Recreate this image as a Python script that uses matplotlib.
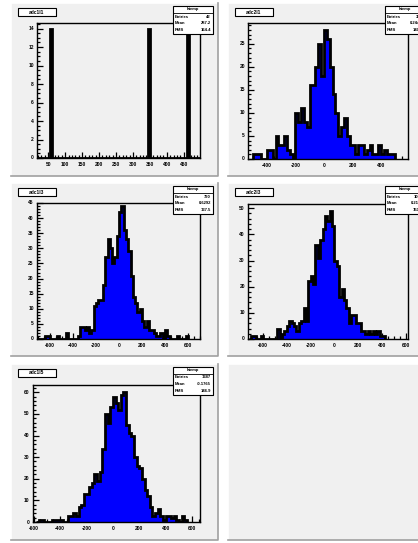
import numpy as np
import matplotlib
matplotlib.use("Agg")
from matplotlib import pyplot as plt
from matplotlib.patches import Rectangle
from matplotlib.ticker import MultipleLocator

W, H = 418, 543

# panel 1: three narrow spikes
p1_pos = [57, 349, 460]
p1_cnt = [14, 14, 14]

# panel 2 : bins of 20 starting at -500
p2_lo = -500
p2_cnt = [1, 1, 1, 0, 0, 2, 2, 0, 5, 3, 3, 5, 2, 1, 0, 10, 8, 11, 8, 7,
          16, 16, 20, 25, 18, 28, 26, 20, 14, 10, 5, 7, 9, 5, 3, 3, 1, 3, 3, 1,
          2, 3, 1, 1, 3, 1, 2, 1, 1, 1]

# panel 3 : bins of 20 starting at -700
p3_lo = -700
p3_cnt = [0, 0, 0, 1, 1, 0, 0, 0, 1, 0, 0, 0, 2, 0, 0, 0, 0, 1, 4, 4,
          3, 4, 2, 3, 11, 12, 13, 13, 18, 27, 33, 30, 25, 27, 34, 42, 44, 36, 33, 29,
          21, 14, 12, 9, 10, 6, 4, 6, 3, 3, 2, 1, 1, 2, 0, 3, 1, 0, 0, 0,
          1, 0, 0, 0, 1]

# panel 4 : bins of 20 starting at -720
p4_lo = -720
p4_cnt = [0, 1, 1, 0, 0, 1, 0, 0, 0, 0, 0, 0, 4, 0, 2, 3, 5, 7, 6, 5,
          3, 6, 7, 12, 7, 22, 24, 21, 36, 31, 38, 42, 47, 45, 49, 43, 30, 28, 16, 19,
          15, 12, 6, 9, 9, 6, 6, 3, 3, 2, 3, 2, 3, 2, 3, 1, 1]

# panel 5 : bins of 20 starting at -580
p5_lo = -580
p5_cnt = [0, 1, 1, 0, 0, 0, 1, 1, 1, 1, 0, 0, 3, 3, 4, 3, 7, 8, 13, 13,
          16, 18, 22, 19, 23, 34, 50, 46, 53, 58, 55, 52, 59, 60, 45, 41, 40, 30, 26, 25,
          20, 15, 12, 7, 3, 4, 6, 3, 1, 3, 3, 2, 3, 1, 0, 3, 1]

titles = ["adc1l1", "adc2l1", "adc1l3", "adc2l3", "adc1l5"]
stats = [("42", "287.2", "164.4"),
         ("365", "0.2441", "140.2"),
         ("790", "0.6292", "137.5"),
         ("1063", "0.2152", "150.6"),
         ("1387", "-0.1765", "146.9")]

plt.rcParams['font.family'] = ['Liberation Sans', 'DejaVu Sans']
plt.rcParams['font.weight'] = 'bold'

fig = plt.figure(figsize=(W / 100, H / 100), dpi=100)
fig.patch.set_facecolor("white")


def box(x0, y0, x1, y1):
    return [x0 / W, 1 - y1 / H, (x1 - x0) / W, (y1 - y0) / H]


def pad(x0, y0, x1, y1):
    fig.patches.append(Rectangle((x0 / W, 1 - y1 / H), (x1 - x0) / W, (y1 - y0) / H,
                                 transform=fig.transFigure, facecolor="#f0f0f0",
                                 edgecolor="none", zorder=-2))
    # bevel: light top/left, dark bottom/right
    fig.lines.append(plt.Line2D([x0 / W, x0 / W, x1 / W], [1 - y1 / H, 1 - y0 / H, 1 - y0 / H],
                                transform=fig.transFigure, color="white", lw=1.2, zorder=-1))
    fig.lines.append(plt.Line2D([x0 / W, x1 / W, x1 / W], [1 - y1 / H, 1 - y1 / H, 1 - y0 / H],
                                transform=fig.transFigure, color="#a0a0a0", lw=1.2, zorder=-1))


pads = [(11, 3, 218, 176), (228, 3, 430, 176),
        (11, 183, 218, 356), (228, 183, 430, 356),
        (11, 364, 218, 540), (228, 364, 430, 540)]
for p in pads:
    pad(*p)

frames = [(37, 23, 200, 158), (248, 23, 408, 159),
          (37, 203, 200, 339), (248, 204, 408, 339),
          (33, 385, 200, 522)]
xlims = [(17, 498), (-533, 589), (-713, 704), (-726, 617), (-605, 660)]
ylims = [(0, 14.6), (0, 29.5), (0, 45), (0, 51.6), (0, 63.4)]
xmaj = [50, 200, 200, 200, 200]
xmin = [10, 50, 50, 50, 50]
ymaj = [2, 5, 5, 10, 10]
ymin = [0.5, 1, 1, 2, 2]
stat_off = [27, 23, 27, 23, 27]

hists = []
edges1 = np.arange(15, 510, 5)
c1, _ = np.histogram(p1_pos, bins=edges1, weights=p1_cnt)
hists.append((c1, edges1))
for lo, cnt in [(p2_lo, p2_cnt), (p3_lo, p3_cnt), (p4_lo, p4_cnt), (p5_lo, p5_cnt)]:
    e = lo + 20 * np.arange(len(cnt) + 1)
    hists.append((np.array(cnt), e))

for i in range(5):
    ax = fig.add_axes(box(*frames[i]))
    ax.set_zorder(2)
    ax.set_facecolor("#f0f0f0")
    cnt, e = hists[i]
    ax.stairs(cnt, e, fill=True, color="#0000ff", zorder=2)
    ax.stairs(cnt, e, color="black", lw=2.0, zorder=3)
    ax.set_xlim(*xlims[i])
    ax.set_ylim(*ylims[i])
    ax.xaxis.set_major_locator(MultipleLocator(xmaj[i]))
    ax.xaxis.set_minor_locator(MultipleLocator(xmin[i]))
    ax.yaxis.set_major_locator(MultipleLocator(ymaj[i]))
    ax.yaxis.set_minor_locator(MultipleLocator(ymin[i]))
    ax.tick_params(which="both", direction="in", top=False, right=False,
                   width=0.9, labelbottom=False, labelleft=False)
    ax.tick_params(which="major", length=4.5)
    ax.tick_params(which="minor", length=2.2)
    for s in ax.spines.values():
        s.set_linewidth(1.0)
    for t in ax.get_xticks():
        if xlims[i][0] <= t <= xlims[i][1]:
            ax.text(t, -0.03 * ylims[i][1], "%g" % t, ha="center", va="top",
                    fontsize=3.5, fontweight="bold", clip_on=False)
    for t in ax.get_yticks():
        if 0 <= t <= ylims[i][1]:
            ax.text(xlims[i][0] - 0.02 * (xlims[i][1] - xlims[i][0]), t, "%g" % t,
                    ha="right", va="center", fontsize=3.5, fontweight="bold", clip_on=False)

    px0, py0, px1, py1 = pads[i]
    # title box
    tb = box(px0 + 7, py0 + 5, px0 + 45, py0 + 13)
    fig.patches.append(Rectangle((tb[0] + 1.2 / W, tb[1] - 1.2 / H), tb[2], tb[3],
                                 transform=fig.transFigure, facecolor="black", zorder=5))
    fig.patches.append(Rectangle((tb[0], tb[1]), tb[2], tb[3], transform=fig.transFigure,
                                 facecolor="white", edgecolor="black", lw=0.8, zorder=6))
    fig.text(tb[0] + tb[2] / 2, tb[1] + tb[3] / 2, titles[i], ha="center", va="center",
             fontsize=3.5, fontweight="bold", zorder=7)

    # stats box
    sx0 = frames[i][2] - stat_off[i]
    sb = box(sx0, py0 + 3, sx0 + 40, py0 + 31)
    fig.patches.append(Rectangle((sb[0] + 1.2 / W, sb[1] - 1.2 / H), sb[2], sb[3],
                                 transform=fig.transFigure, facecolor="black", zorder=5))
    fig.patches.append(Rectangle((sb[0], sb[1]), sb[2], sb[3], transform=fig.transFigure,
                                 facecolor="white", edgecolor="black", lw=0.8, zorder=6))
    hy = 1 - (py0 + 9.5) / H
    fig.lines.append(plt.Line2D([sb[0], sb[0] + sb[2]], [hy, hy], transform=fig.transFigure,
                                color="black", lw=0.6, zorder=7))
    fig.text(sb[0] + sb[2] / 2, 1 - (py0 + 6.3) / H, "htemp", ha="center", va="center",
             fontsize=3, fontweight="bold", zorder=7)
    for k, (lab, val) in enumerate(zip(["Entries", "Mean", "RMS"], stats[i])):
        yy = 1 - (py0 + 13.5 + 6.8 * k) / H
        fig.text(sb[0] + 2 / W, yy, lab, ha="left", va="center", fontsize=3,
                 fontweight="bold", zorder=7)
        fig.text(sb[0] + sb[2] - 2 / W, yy, val, ha="right", va="center", fontsize=3,
                 fontweight="bold", zorder=7)

fig.savefig("out.png", dpi=100)
